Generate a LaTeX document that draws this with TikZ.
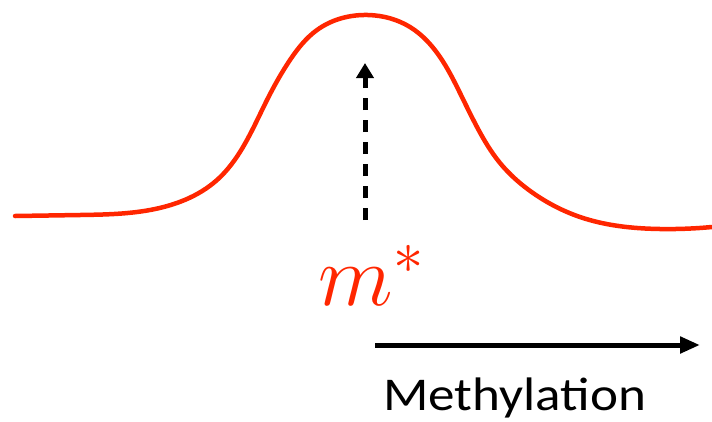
\documentclass[tikz,border=0pt]{standalone}
\usepackage{fontspec}
\newfontfamily\labelfont[FakeStretch=1.13]{Carlito}
\usetikzlibrary{arrows.meta,hobby}
\definecolor{curvered}{RGB}{255,38,0}
\tikzset{
  curve/.style={draw=curvered, line width=4.5pt, line cap=round},
  dasharrow/.style={draw=black, line width=5pt, dash pattern=on 12pt off 10pt, -{Triangle[length=15pt,width=17pt]}},
  axisarrow/.style={draw=black, line width=5pt, -{Triangle[length=20pt,width=16pt]}},
  mlabel/.style={text=curvered, inner sep=0pt, scale=4.2, font=\fontsize{20}{20}\selectfont},
  axislabel/.style={inner sep=0pt, font=\labelfont\fontsize{47}{47}\selectfont}
}
\begin{document}
\begin{tikzpicture}[x=1pt,y=-1pt]
\useasboundingbox (0,0) rectangle (712,421);
\draw[curve, use Hobby shortcut] (15,216) .. (80,215) .. (150,210) .. (217,180) .. (247,140) .. (267,100) .. (290,60) .. (317,30) .. (368,15)
 .. (410,27) .. (440,57) .. (460,93) .. (477,127) .. (500,163) .. (533,193) .. (580,217) .. (660,229) .. (712,227);
\coordinate (dashbot) at (365,220);
\coordinate (dashtop) at (365,63);
\draw[dasharrow] (dashbot) -- (dashtop);
\node[mlabel, anchor=base west] (mstar) at (318,305) {$m^*$};
\coordinate (hstart) at (375,345);
\coordinate (hend) at (700,345);
\draw[axisarrow] (hstart) -- (hend);
\node[axislabel, anchor=base west] (meth) at (383,410) {Methylation};
\end{tikzpicture}
\end{document}
